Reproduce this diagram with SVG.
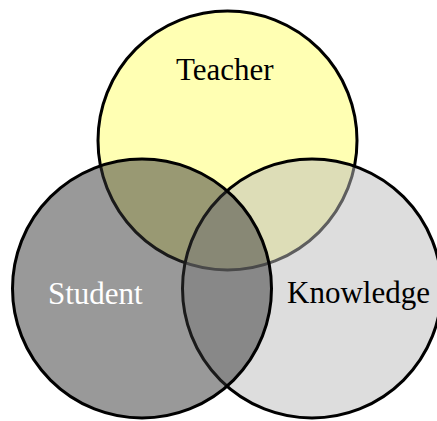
<svg xmlns="http://www.w3.org/2000/svg" width="437" height="421" viewBox="0 0 437 421">
  <style>
    .ring { stroke: #000000; stroke-width: 3; }
    .lbl { font-family: "Liberation Serif", "Times New Roman", serif; font-size: 31px; }
  </style>
  <rect x="0" y="0" width="437" height="421" fill="#ffffff"/>
  <g id="teacher">
    <circle class="ring" cx="227.5" cy="140.5" r="129.5" fill="#FFFFB3"/>
    <text class="lbl" x="176" y="80" fill="#000000">Teacher</text>
  </g>
  <g id="knowledge">
    <circle class="ring" cx="312" cy="288.5" r="129.5" fill="#BBBBBB" fill-opacity="0.5"/>
    <text class="lbl" x="287" y="303" fill="#000000">Knowledge</text>
  </g>
  <g id="student">
    <circle class="ring" cx="142" cy="288.5" r="129.5" fill="#333333" fill-opacity="0.5"/>
    <text class="lbl" x="48" y="304" fill="#ffffff">Student</text>
  </g>
</svg>
